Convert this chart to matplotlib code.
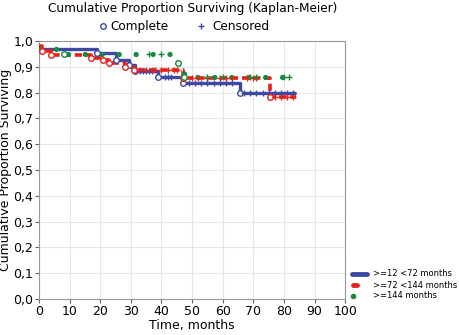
import numpy as np
import matplotlib.pyplot as plt
from matplotlib.lines import Line2D

# step curves (time, survival) for each group
t_blue = [0, 19, 25, 29.5, 31.5, 39, 47, 65.5, 84]
s_blue = [0.97, 0.953, 0.925, 0.907, 0.885, 0.862, 0.837, 0.797, 0.797]
c_blue = [33, 34, 35, 36, 37, 41, 42, 43, 49, 51, 53, 55, 57, 59, 61, 63, 67, 69, 71, 73, 75, 77, 79, 81, 83]

t_red = [0, 1, 4, 17, 21, 23, 28, 31, 47, 75.5, 84]
s_red = [0.98, 0.96, 0.945, 0.935, 0.925, 0.915, 0.9, 0.888, 0.858, 0.784, 0.784]
c_red = [33, 35, 37, 38, 40, 42, 44, 45, 50, 52, 55, 59, 61, 63, 68, 70, 71, 77, 79, 81, 83]

t_green = [0, 8, 45.5, 47.5, 82]
s_green = [0.97, 0.95, 0.915, 0.86, 0.86]
c_green = [36, 40, 55, 60, 69, 71, 80, 81.5]

xticks = np.arange(0, 101, 10)
yticks = np.arange(0, 1.01, 0.1)
group_labels = [">=12 <72 months", ">=72 <144 months", ">=144 months"]

blue = "#3c4aa3"
red = "#e8201a"
green = "#17893a"

plt.rcParams['font.family'] = ['DejaVu Sans']
fig = plt.figure(figsize=(4.59, 3.35), dpi=100)
ax = fig.add_axes([0.085, 0.107, 0.667, 0.771])


def step_val(t, s, x):
    i = np.searchsorted(t, x, side="right") - 1
    return s[i]


def draw(t, s, c, col, ls, lw, cap):
    ax.step(t, s, where="post", color=col, lw=lw, linestyle=ls,
            dash_capstyle=cap, solid_capstyle="butt", zorder=3)
    ax.plot(t[1:-1], s[1:-1], "o", mfc="white", mec=col, ms=4, mew=1, zorder=4)
    cy = [step_val(t, s, x) for x in c]
    ax.plot(c, cy, "+", color=col, ms=5, mew=1, zorder=4)


draw(t_blue, s_blue, c_blue, blue, "-", 2.4, "butt")
draw(t_red, s_red, c_red, red, (0, (2.0, 1.1)), 2.6, "butt")
draw(t_green, s_green, c_green, green, (0, (0.01, 3.2)), 3.8, "round")

ax.set_xlim(0, 100)
ax.set_ylim(0, 1.0)
ax.set_xticks(xticks)
ax.set_yticks(yticks)
ax.set_yticklabels([f"{v:.1f}".replace(".", ",") for v in yticks])
ax.tick_params(labelsize=9, length=3, color="#666666", pad=1)
ax.grid(color="#e6e6e6", lw=0.8)
ax.set_axisbelow(True)
for sp in ax.spines.values():
    sp.set_color("#999999")
ax.set_xlabel("Time, months", fontsize=9, labelpad=1)
ax.set_ylabel("Cumulative Proportion Surviving", fontsize=9, labelpad=1)

fig.text(0.419, 0.976, "Cumulative Proportion Surviving (Kaplan-Meier)",
         ha="center", va="center", fontsize=8.7)
fig.text(0.304, 0.922, "Complete", ha="center", va="center", fontsize=8.7)
fig.text(0.524, 0.922, "Censored", ha="center", va="center", fontsize=8.7)
fig.lines.append(Line2D([0.224], [0.922], marker="o", mfc="white", mec=blue,
                        ms=4, transform=fig.transFigure))
fig.lines.append(Line2D([0.438], [0.922], marker="+", color=blue,
                        ms=5, mew=1, transform=fig.transFigure))

# legend for groups, drawn by hand at lower right
ys = [1 - 274 / 335, 1 - 285 / 335, 1 - 296 / 335]
fig.lines.append(Line2D([0.766, 0.800], [ys[0]] * 2, color=blue, lw=3.5,
                        solid_capstyle="round", transform=fig.transFigure))
fig.lines.append(Line2D([0.769, 0.778], [ys[1]] * 2, color=red, lw=3.5,
                        solid_capstyle="round", transform=fig.transFigure))
fig.lines.append(Line2D([0.770], [ys[2]], marker="o", color=green, ms=3,
                        transform=fig.transFigure))
for y, lab in zip(ys, group_labels):
    fig.text(0.812, y, lab, ha="left", va="center", fontsize=6)

fig.savefig("out.png", dpi=100)
